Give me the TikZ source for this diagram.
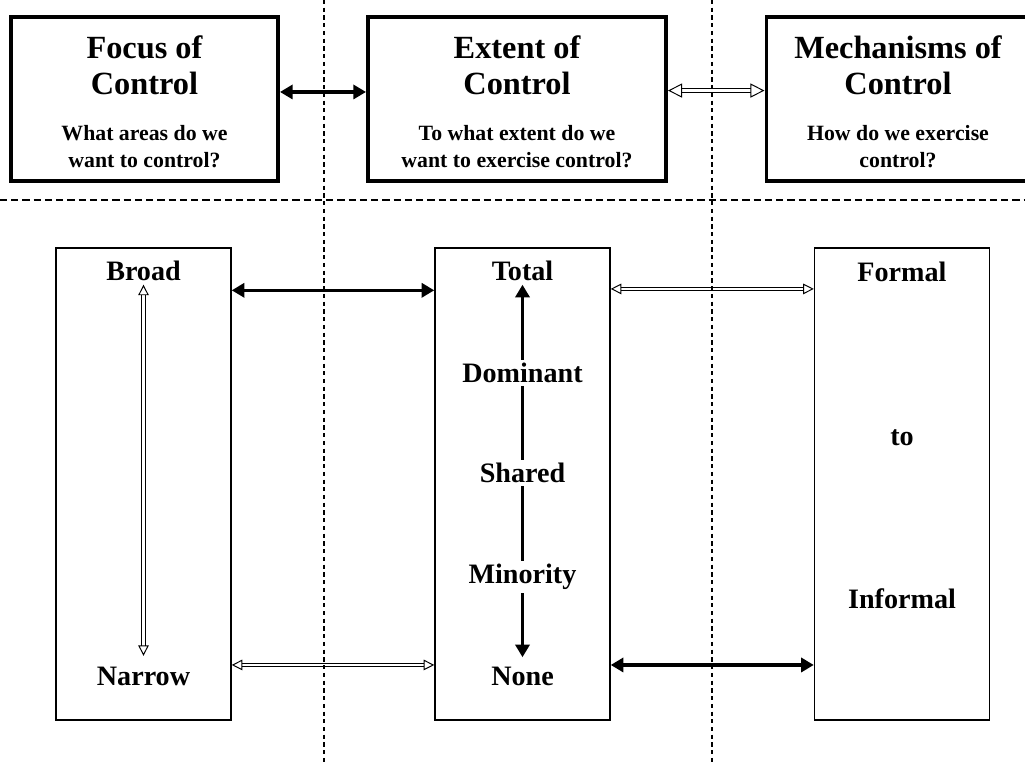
\documentclass[tikz,border=0pt]{standalone}
\usepackage{fontspec}
\setmainfont{Liberation Serif}
\usetikzlibrary{arrows.meta}

\newcommand{\hdfont}{\fontsize{23}{25.6}\selectfont\bfseries}
\newcommand{\askfont}{\fontsize{15.5}{19.2}\selectfont\bfseries}
\newcommand{\lblfont}{\fontsize{20}{24}\selectfont\bfseries}
\newcommand{\topstrut}{\rule{0pt}{20pt}}

\tikzset{
  topbox/.style={draw, line width=2.8pt, align=center, font=\hdfont, inner sep=0pt, minimum height=4.1cm},
  lowbox/.style={draw, line width=1pt, minimum width=4.375cm, minimum height=11.8cm},
  lbl/.style={font=\lblfont, inner sep=2.5pt},
  solidarrow/.style={line width=2.5pt, {Triangle[length=9pt,width=10pt]}-{Triangle[length=9pt,width=10pt]}},
  hollowarrow/.style={double, line width=0.7pt, double distance=1.8pt,
    {Triangle[open,length=#1,width=#1]}-{Triangle[open,length=#1,width=#1]}},
  hollowarrow/.default=7.5pt,
  divider/.style={line width=1pt, dash pattern=on 3pt off 2.5pt}
}

\begin{document}
\begin{tikzpicture}[x=0.025cm, y=-0.025cm]
  \useasboundingbox (0,0) rectangle (1025,762);
  % Top boxes
  \node[topbox, minimum width=6.675cm] (focus) at (144.5,99) {\topstrut Focus of\\Control\\[7.4pt]\askfont What areas do we\\[-6.4pt]\askfont want to control?};
  \node[topbox, minimum width=7.45cm] (extent) at (517,99) {\topstrut Extent of\\Control\\[7.4pt]\askfont To what extent do we\\[-6.4pt]\askfont want to exercise control?};
  \node[topbox, minimum width=6.575cm] (mech) at (898,99) {\topstrut Mechanisms of\\Control\\[7.4pt]\askfont How do we exercise\\[-6.4pt]\askfont control?};
  % Lower boxes
  \node[lowbox] (broadbox) at (143.5,484) {};
  \node[lowbox] (totalbox) at (522.5,484) {};
  \node[lowbox] (formalbox) at (902,484) {};
  % Labels
  \node[lbl] (broad) at (143.5,271) {Broad};
  \node[lbl] (narrow) at (143.5,676) {Narrow};
  \node[lbl] (total) at (522.5,271) {Total};
  \node[lbl] (none) at (522.5,676) {None};
  \node[lbl] (formal) at (902,272) {Formal};
  \node[lbl] (to) at (902,438) {to};
  \node[lbl] (informal) at (902,599) {Informal};
  % Scale of control
  \draw[solidarrow, shorten >=4pt] (total) -- (none);
  \node[lbl, fill=white] (dominant) at (522.5,373) {Dominant};
  \node[lbl, fill=white] (shared) at (522.5,473) {Shared};
  \node[lbl, fill=white] (minority) at (522.5,577) {Minority};
  \draw[hollowarrow, shorten >=5pt] (broad) -- (narrow);
  % Links
  \draw[solidarrow] ([yshift=5pt]focus.east) -- ([yshift=5pt]extent.west);
  \draw[hollowarrow=10pt, double distance=2.4pt] ([yshift=6pt]extent.east) -- ([yshift=6pt]mech.west);
  \draw[solidarrow] ([yshift=-4pt]broadbox.east |- broad.south) -- ([yshift=-4pt]totalbox.west |- broad.south);
  \draw[hollowarrow] ([yshift=-3pt]totalbox.east |- total.south) -- ([yshift=-3pt]formalbox.west |- total.south);
  \draw[hollowarrow] ([yshift=-1.5pt]broadbox.east |- narrow.north) -- ([yshift=-1.5pt]totalbox.west |- narrow.north);
  \draw[solidarrow] ([yshift=-1.5pt]totalbox.east |- none.north) -- ([yshift=-1.5pt]formalbox.west |- none.north);
  % Dividers
  \draw[divider] (324,0) -- (324,762);
  \draw[divider] (712,0) -- (712,762);
  \draw[divider, dash pattern=on 5pt off 3pt] (0,200) -- (1025,200);
\end{tikzpicture}
\end{document}
